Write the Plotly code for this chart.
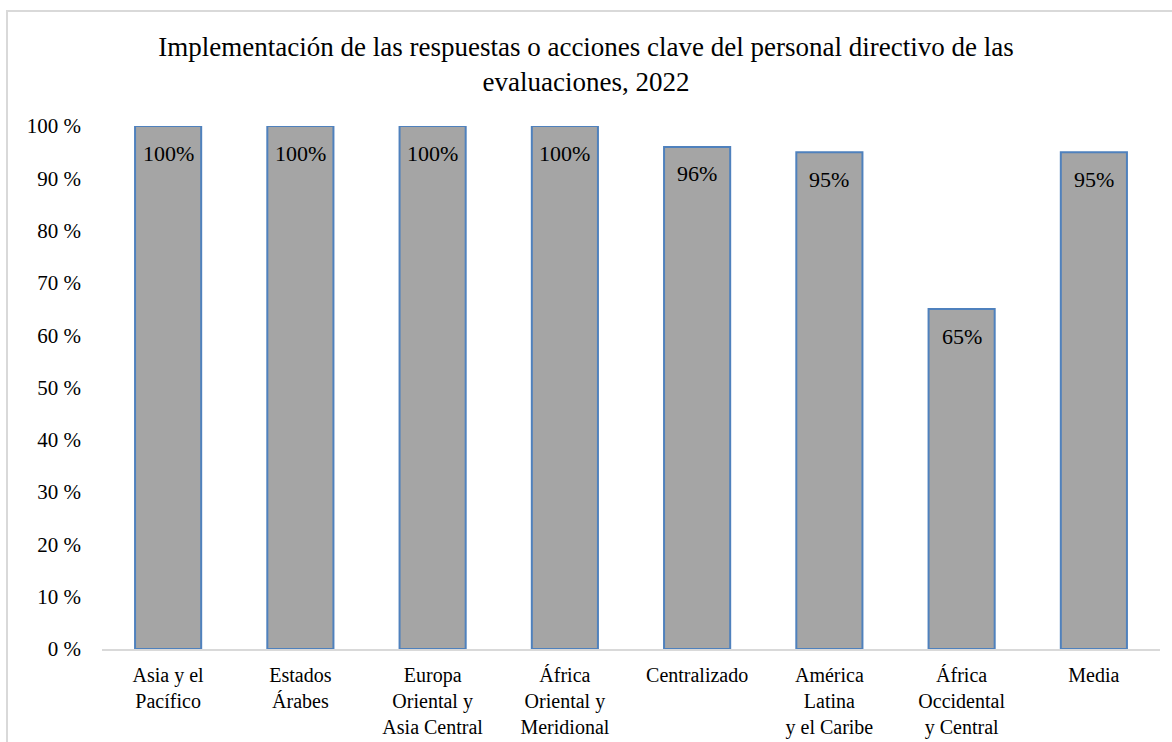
import plotly.graph_objects as go

categories = ["Asia y el<br>Pacífico", "Estados<br>Árabes", "Europa<br>Oriental y<br>Asia Central",
              "África<br>Oriental y<br>Meridional", "Centralizado", "América<br>Latina<br>y el Caribe",
              "África<br>Occidental<br>y Central", "Media"]
values = [100, 100, 100, 100, 96, 95, 65, 95]
labels = ["100%", "100%", "100%", "100%", "96%", "95%", "65%", "95%"]
y_ticks = [0, 10, 20, 30, 40, 50, 60, 70, 80, 90, 100]
y_tick_text = [f"{v} %" for v in y_ticks]

FONT = "Liberation Serif"

fig = go.Figure()
fig.add_trace(go.Bar(
    x=categories, y=values,
    marker=dict(color="#A5A5A5", line=dict(color="#4F81BD", width=2)),
    hoverinfo="skip",
))

for c, v, t in zip(categories, values, labels):
    fig.add_annotation(x=c, y=v, text=t, showarrow=False, yanchor="middle", yshift=-27,
                       font=dict(family=FONT, size=22, color="#000000"))

W, H = 1172, 742
L, R, T, B = 102, 12, 126, 93
pw, ph = W - L - R, H - T - B
fig.add_shape(type="rect", xref="paper", yref="paper",
              x0=(7 - L) / pw, x1=(W + 20 - L) / pw,
              y0=-(B + 20) / ph, y1=1 + (T - 11) / ph,
              line=dict(color="#D9D9D9", width=2), fillcolor="rgba(0,0,0,0)", layer="below")

fig.update_layout(
    width=W, height=H,
    margin=dict(l=L, r=R, t=T, b=B, autoexpand=False),
    paper_bgcolor="white", plot_bgcolor="white",
    bargap=0.5,
    showlegend=False,
    title=dict(text="Implementación de las respuestas o acciones clave del personal directivo de las<br>evaluaciones, 2022",
               x=0.5, xanchor="center", xref="container", y=1 - 56 / H, yanchor="top", yref="container",
               font=dict(family=FONT, size=27, color="#000000")),
    font=dict(family=FONT, color="#000000"),
    xaxis=dict(showline=True, linecolor="#D9D9D9", linewidth=1.5, ticks="", showgrid=False,
               ticklabelstandoff=7,
               tickfont=dict(family=FONT, size=20, color="#000000")),
    yaxis=dict(range=[0, 100], tickmode="array", tickvals=y_ticks, ticktext=y_tick_text,
               showgrid=False, zeroline=False,
               showline=False, ticks="", ticklabelstandoff=20,
               tickfont=dict(family=FONT, size=21, color="#000000")),
)

fig.write_html("out.html", config={"displayModeBar": False},
               post_script="document.body.style.margin='0';document.body.style.padding='0';")
